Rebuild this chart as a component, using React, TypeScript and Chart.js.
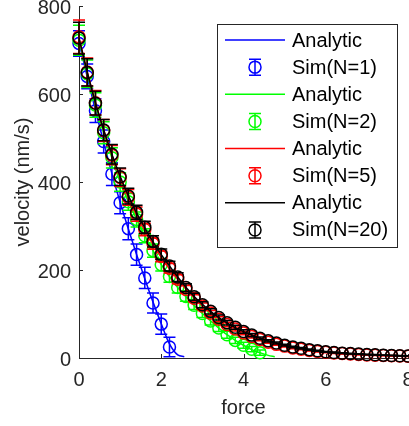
import React, { useEffect, useRef } from "react";
import { Chart, registerables } from "chart.js";

Chart.register(...registerables);

// ---------- data ----------
const forceTicks = [0, 2, 4, 6, 8];
const velocityTicks = [0, 200, 400, 600, 800];

const seriesLabels = ["Sim(N=1)", "Sim(N=2)", "Sim(N=5)", "Sim(N=20)"];
const seriesColors = ["#0000ff", "#00ff00", "#ff0000", "#000000"];

// N = 1
const simForceN1 = [0, 0.2, 0.4, 0.6, 0.8, 1.0, 1.2, 1.4, 1.6, 1.8, 2.0, 2.2];
const simVelN1 = [715, 640, 562, 492, 418, 353, 294, 235, 182, 125, 77, 25];
const simErrN1 = [29, 28, 27, 26, 26, 25, 25, 24, 24, 23, 23, 22];
const anForceN1 = [0, 0.2, 0.4, 0.6, 0.8, 1.0, 1.2, 1.4, 1.6, 1.8, 2.0, 2.2, 2.4, 2.56];
const anVelN1 = [718, 639, 563, 490, 419, 354, 293, 235, 180, 127, 78, 32, 7, 3];

// N = 2
const simForceN2 = [0, 0.2, 0.4, 0.6, 0.8, 1.0, 1.2, 1.4, 1.6, 1.8, 2.0, 2.2, 2.4, 2.6, 2.8, 3.0, 3.2, 3.4, 3.6, 3.8, 4.0, 4.2, 4.4];
const simVelN2 = [722, 646, 575, 512, 455, 400, 355, 315, 278, 244, 212, 185, 160, 140, 120, 101, 84, 68, 53, 40, 29, 20, 12];
const simErrN2 = [34, 31, 28, 25, 23, 21, 19, 17, 16, 15, 14, 13, 12, 11, 10, 9, 9, 8, 8, 7, 7, 6, 6];
const anForceN2 = [0, 0.2, 0.4, 0.6, 0.8, 1.0, 1.2, 1.4, 1.6, 1.8, 2.0, 2.2, 2.4, 2.6, 2.8, 3.0, 3.2, 3.4, 3.6, 3.8, 4.0, 4.2, 4.4, 4.6, 4.76];
const anVelN2 = [722, 646, 575, 512, 455, 400, 355, 315, 278, 244, 212, 185, 160, 139, 119, 101, 84, 68, 53, 40, 29, 19, 12, 6, 3];

// N = 5 and N = 20 share the force grid
const simForce = [0, 0.2, 0.4, 0.6, 0.8, 1.0, 1.2, 1.4, 1.6, 1.8, 2.0, 2.2, 2.4, 2.6, 2.8, 3.0, 3.2, 3.4, 3.6, 3.8, 4.0, 4.2, 4.4, 4.6, 4.8, 5.0, 5.2, 5.4, 5.6, 5.8, 6.0, 6.2, 6.4, 6.6, 6.8, 7.0, 7.2, 7.4, 7.6, 7.8, 8.0];

const simVelN5 = [730, 650, 580, 517, 461, 410, 365, 327, 292, 260, 231, 204, 179, 156, 136, 118, 102, 88, 76, 66, 57, 49, 42, 36, 31, 27, 23, 20, 17, 15, 13, 11.5, 10, 9, 8, 7, 6.3, 5.6, 5, 4.5, 4];
const simErrN5 = [38, 32, 28, 25, 22, 20, 18, 16, 14, 13, 12, 11, 10, 9, 8, 7, 6, 5.5, 5, 4.5, 4, 3.5, 3, 2.5, 2.2, 2, 1.8, 1.5, 1.3, 1.2, 1, 1, 0.9, 0.8, 0.7, 0.6, 0.6, 0.5, 0.5, 0.4, 0.4];
const anVelN5 = [728, 651, 581, 518, 461, 410, 365, 325, 290, 258, 229, 203, 179, 157, 137, 119, 103, 89, 77, 66, 57, 49, 42, 36, 31, 27, 23, 20, 17, 15, 13, 11, 9.7, 8.6, 7.6, 6.8, 6.1, 5.5, 5, 4.5, 4.1];

const simVelN20 = [727, 649, 579, 518, 463, 412, 368, 331, 297, 265, 236, 209, 184, 160, 139, 121, 106, 92, 80, 70, 60, 52, 45, 39, 34, 29, 25, 22, 19, 16.5, 14, 12.5, 11, 10, 9, 8, 7.2, 6.5, 5.8, 5.2, 4.7];
const simErrN20 = [36, 31, 27, 24, 22, 20, 18, 16, 14, 13, 12, 11, 10, 9, 8, 7, 6, 5.5, 5, 4.5, 4, 3.5, 3, 2.6, 2.3, 2, 1.8, 1.6, 1.4, 1.2, 1, 0.9, 0.8, 0.7, 0.7, 0.6, 0.5, 0.5, 0.4, 0.4, 0.4];
const anVelN20 = [727, 650, 580, 518, 463, 413, 369, 330, 296, 264, 235, 209, 184, 161, 140, 122, 106, 92, 80, 69, 60, 52, 45, 39, 34, 29, 25, 22, 19, 16.5, 14.3, 12.5, 11, 9.8, 8.8, 7.9, 7.1, 6.4, 5.8, 5.3, 4.8];

// ---------- helpers ----------
const FONT = "'Liberation Sans', Arial, Helvetica, sans-serif";
const AXIS_COLOR = "#262626";

const pts = (xs: number[], ys: number[]) => xs.map((x, i) => ({ x, y: ys[i] }));

const analyticSets = [
  [anForceN1, anVelN1],
  [anForceN2, anVelN2],
  [simForce, anVelN5],
  [simForce, anVelN20],
];
const simSets = [
  [simForceN1, simVelN1, simErrN1],
  [simForceN2, simVelN2, simErrN2],
  [simForce, simVelN5, simErrN5],
  [simForce, simVelN20, simErrN20],
];

function buildDatasets() {
  const out: any[] = [];
  for (let s = 0; s < 4; s++) {
    const color = seriesColors[s];
    const [ax, ay] = analyticSets[s];
    const [sx, sy, se] = simSets[s];
    out.push({
      label: "Analytic",
      data: pts(ax, ay),
      showLine: true,
      borderColor: color,
      backgroundColor: color,
      borderWidth: 1.5,
      pointRadius: 0,
      fill: false,
      cubicInterpolationMode: "monotone",
      order: 8 - 2 * s,
      legendKind: "line",
    });
    out.push({
      label: seriesLabels[s],
      data: pts(sx, sy),
      errors: se,
      showLine: false,
      borderColor: color,
      backgroundColor: "rgba(0,0,0,0)",
      pointStyle: "circle",
      pointRadius: 6,
      pointBorderWidth: 1.5,
      pointBorderColor: color,
      pointBackgroundColor: "rgba(0,0,0,0)",
      clip: false,
      order: 7 - 2 * s,
      legendKind: "errorbar",
    });
  }
  return out;
}

// error bars drawn through the chart's scales
const errorBarPlugin = {
  id: "errorBars",
  afterDatasetDraw(chart: any, args: any) {
    const ds = chart.data.datasets[args.index];
    if (!ds.errors) return;
    const xs = chart.scales.x;
    const ys = chart.scales.y;
    const ctx = chart.ctx;
    const cap = 6;
    ctx.save();
    ctx.strokeStyle = ds.borderColor;
    ctx.lineWidth = 1.5;
    ds.data.forEach((p: any, i: number) => {
      const e = ds.errors[i];
      const px = xs.getPixelForValue(p.x);
      const top = ys.getPixelForValue(p.y + e);
      const bot = ys.getPixelForValue(Math.max(p.y - e, ys.min));
      ctx.beginPath();
      ctx.moveTo(px, top);
      ctx.lineTo(px, bot);
      ctx.moveTo(px - cap, top);
      ctx.lineTo(px + cap, top);
      if (p.y - e >= ys.min) {
        ctx.moveTo(px - cap, bot);
        ctx.lineTo(px + cap, bot);
      }
      ctx.stroke();
    });
    ctx.restore();
  },
};

// inward tick marks (MATLAB style)
const inwardTicksPlugin = {
  id: "inwardTicks",
  beforeDatasetsDraw(chart: any) {
    const { ctx, chartArea } = chart;
    const xs = chart.scales.x;
    const ys = chart.scales.y;
    const len = 4;
    ctx.save();
    ctx.strokeStyle = AXIS_COLOR;
    ctx.lineWidth = 1;
    ctx.beginPath();
    xs.ticks.forEach((t: any) => {
      const px = Math.round(xs.getPixelForValue(t.value)) + 0.5;
      ctx.moveTo(px, chartArea.bottom);
      ctx.lineTo(px, chartArea.bottom - len);
    });
    ys.ticks.forEach((t: any) => {
      const py = Math.round(ys.getPixelForValue(t.value)) + 0.5;
      ctx.moveTo(chartArea.left, py);
      ctx.lineTo(chartArea.left + len, py);
    });
    ctx.stroke();
    ctx.restore();
  },
};

// boxed legend with line / errorbar glyphs
const boxLegendPlugin = {
  id: "boxLegend",
  afterDraw(chart: any) {
    const { ctx, chartArea } = chart;
    const left = chartArea.right - 191;
    const top = chartArea.top + 18;
    const width = 180;
    const height = 223;
    const rowH = 27.14;
    ctx.save();
    ctx.fillStyle = "#ffffff";
    ctx.fillRect(left, top, width, height);
    ctx.strokeStyle = AXIS_COLOR;
    ctx.lineWidth = 1;
    ctx.strokeRect(Math.round(left) + 0.5, Math.round(top) + 0.5, width, height);
    ctx.font = `20px ${FONT}`;
    ctx.textBaseline = "middle";
    ctx.textAlign = "left";
    chart.data.datasets.forEach((ds: any, i: number) => {
      const y = top + 16 + i * rowH;
      const color = ds.borderColor;
      ctx.strokeStyle = color;
      ctx.lineWidth = 1.5;
      if (ds.legendKind === "line") {
        ctx.beginPath();
        ctx.moveTo(left + 8, y);
        ctx.lineTo(left + 68, y);
        ctx.stroke();
      } else {
        const cx = left + 38;
        ctx.beginPath();
        ctx.arc(cx, y, 6, 0, Math.PI * 2);
        ctx.moveTo(cx, y - 8);
        ctx.lineTo(cx, y + 8);
        ctx.moveTo(cx - 6, y - 8);
        ctx.lineTo(cx + 6, y - 8);
        ctx.moveTo(cx - 6, y + 8);
        ctx.lineTo(cx + 6, y + 8);
        ctx.stroke();
      }
      ctx.fillStyle = "#000000";
      ctx.fillText(ds.label, left + 75, y + 1);
    });
    ctx.restore();
  },
};

export default function App() {
  const ref = useRef<HTMLCanvasElement>(null);

  useEffect(() => {
    if (!ref.current) return;
    const chart = new Chart(ref.current, {
      type: "scatter",
      data: { datasets: buildDatasets() },
      options: {
        responsive: false,
        maintainAspectRatio: false,
        devicePixelRatio: 1,
        animation: false,
        events: [],
        layout: { autoPadding: false, padding: { top: 6, right: 1, left: 0, bottom: 0 } },
        plugins: {
          legend: { display: false },
          tooltip: { enabled: false },
        },
        scales: {
          x: {
            type: "linear",
            min: 0,
            max: 8,
            afterBuildTicks: (scale: any) => {
              scale.ticks = forceTicks.map((v) => ({ value: v }));
            },
            afterFit: (scale: any) => {
              scale.height = 68;
              scale.paddingLeft = 0;
              scale.paddingRight = 0;
            },
            grid: { display: false, drawTicks: false },
            border: { display: true, color: AXIS_COLOR, width: 1 },
            ticks: {
              autoSkip: false,
              maxRotation: 0,
              minRotation: 0,
              padding: 10,
              color: AXIS_COLOR,
              font: { family: FONT, size: 20 },
            },
            title: {
              display: true,
              text: "force",
              color: AXIS_COLOR,
              font: { family: FONT, size: 20 },
              padding: { top: 0, bottom: 6 },
            },
          },
          y: {
            type: "linear",
            min: 0,
            max: 800,
            afterBuildTicks: (scale: any) => {
              scale.ticks = velocityTicks.map((v) => ({ value: v }));
            },
            afterFit: (scale: any) => {
              scale.width = 79;
              scale.paddingTop = 0;
              scale.paddingBottom = 0;
            },
            grid: { display: false, drawTicks: false },
            border: { display: true, color: AXIS_COLOR, width: 1 },
            ticks: {
              autoSkip: false,
              padding: 8,
              labelOffset: 2,
              color: AXIS_COLOR,
              font: { family: FONT, size: 20 },
            },
            title: {
              display: true,
              text: "velocity (nm/s)",
              color: AXIS_COLOR,
              font: { family: FONT, size: 20 },
              padding: { top: 11, bottom: 0 },
            },
          },
        },
      } as any,
      plugins: [inwardTicksPlugin, errorBarPlugin, boxLegendPlugin],
    });
    return () => chart.destroy();
  }, []);

  return (
    <div
      style={{
        position: "fixed",
        left: 0,
        top: 0,
        width: 409,
        height: 426,
        background: "#ffffff",
        overflow: "hidden",
      }}
    >
      <canvas
        ref={ref}
        width={409}
        height={426}
        style={{ display: "block", width: 409, height: 426 }}
      />
    </div>
  );
}
